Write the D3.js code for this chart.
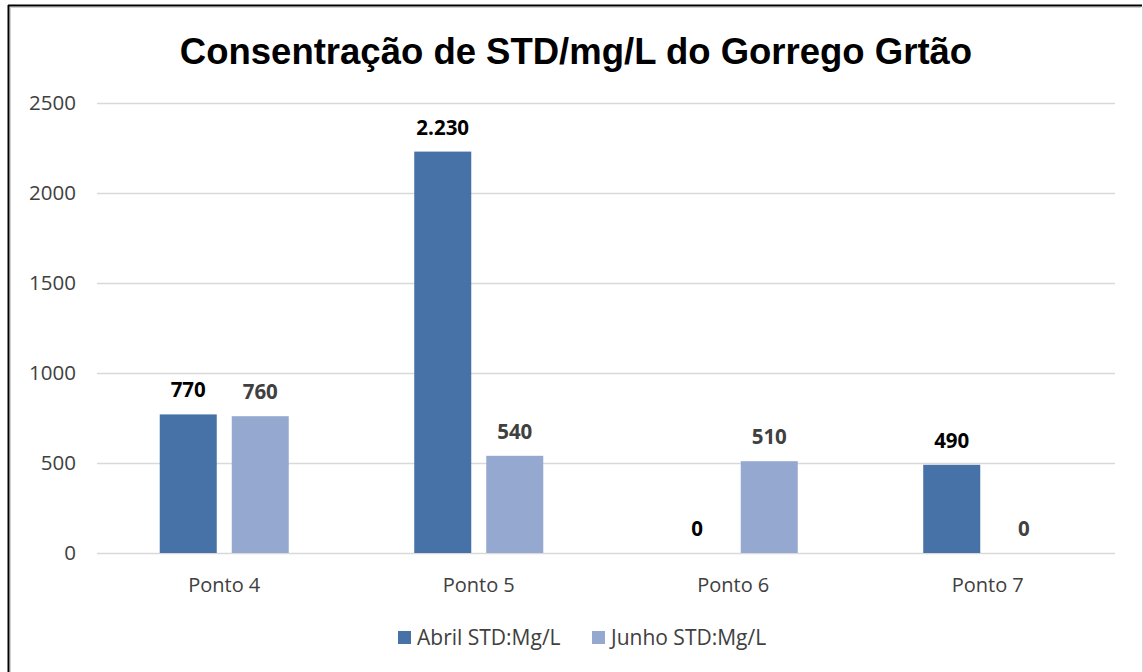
<!DOCTYPE html>
<html>
<head>
<meta charset="utf-8">
<script src="https://cdn.jsdelivr.net/npm/d3@7"></script>
<style>
  body { margin: 0; background: #fff; }
  svg { display: block; }
</style>
</head>
<body>
<svg width="1143" height="672"></svg>
<script>
// data
var categories = ["Ponto 4", "Ponto 5", "Ponto 6", "Ponto 7"];
var seriesNames = ["Abril STD:Mg/L", "Junho STD:Mg/L"];
var abril = [770, 2230, 0, 490];
var junho = [760, 540, 510, 0];
var yTicks = [0, 500, 1000, 1500, 2000, 2500];
var titleText = "Consentração de STD/mg/L do Gorrego Grtão";

var colors = ["#4672a7", "#95a9d0"],
    labelColors = ["#000000", "#404040"],
    plot = {left: 97, right: 1115, top: 103, bottom: 553},
    font = "'Open Sans', 'Noto Sans', sans-serif";

var svg = d3.select("svg");

// frame
svg.append("line").attr("x1", 8).attr("x2", 1142).attr("y1", 5.5).attr("y2", 5.5)
    .attr("stroke", "#000").attr("stroke-width", 2);
svg.append("line").attr("x1", 8.5).attr("x2", 8.5).attr("y1", 5).attr("y2", 672)
    .attr("stroke", "#000").attr("stroke-width", 2);
svg.append("line").attr("x1", 10).attr("x2", 1141).attr("y1", 7.5).attr("y2", 7.5)
    .attr("stroke", "#d0d0d0").attr("stroke-width", 1);
svg.append("line").attr("x1", 10.5).attr("x2", 10.5).attr("y1", 7).attr("y2", 672)
    .attr("stroke", "#d0d0d0").attr("stroke-width", 1);
svg.append("line").attr("x1", 1142.5).attr("x2", 1142.5).attr("y1", 6).attr("y2", 672)
    .attr("stroke", "#d9d9d9").attr("stroke-width", 1);

var yScale = d3.scaleLinear()
        .domain([0, 2500])
        .range([plot.bottom, plot.top]);

var x0 = d3.scaleBand()
        .domain(categories)
        .range([plot.left, plot.right])
        .paddingInner(0.493)
        .paddingOuter(0.2465);

var x1 = d3.scaleBand()
        .domain(seriesNames)
        .range([0, x0.bandwidth()])
        .paddingInner(0.2083);

// gridlines
var grid = svg.append("g")
        .attr("transform", "translate(" + plot.left + ",0)")
        .call(d3.axisLeft(yScale).tickValues(yTicks).tickSize(-(plot.right - plot.left)).tickFormat(""));
grid.select(".domain").remove();
grid.selectAll("line").attr("stroke", "#d9d9d9").attr("stroke-width", 1.6);

// y axis labels
var yAxis = svg.append("g")
        .attr("transform", "translate(" + plot.left + ",0)")
        .call(d3.axisLeft(yScale).tickValues(yTicks).tickSize(0).tickPadding(21).tickFormat(d3.format("d")));
yAxis.select(".domain").remove();
yAxis.selectAll("text")
        .attr("font-family", font)
        .attr("font-size", 20.5)
        .attr("fill", "#404040");

// x axis labels
var xAxis = svg.append("g")
        .attr("transform", "translate(0," + plot.bottom + ")")
        .call(d3.axisBottom(x0).tickSize(0));
xAxis.select(".domain").remove();
xAxis.selectAll("text")
        .attr("y", 0)
        .attr("dy", 39)
        .attr("font-family", font)
        .attr("font-size", 20)
        .attr("fill", "#404040");

var rows = categories.map(function (c, i) {
    return {cat: c, values: [abril[i], junho[i]]};
});

var fmt = d3.formatLocale({decimal: ",", thousands: ".", grouping: [3], currency: ["R$", ""]}).format(",d");

var groups = svg.append("g").selectAll("g")
        .data(rows).enter().append("g")
        .attr("transform", function (d) { return "translate(" + x0(d.cat) + ",0)"; });

groups.selectAll("rect")
        .data(function (d) {
            return d.values.map(function (v, j) { return {s: j, v: v}; });
        })
        .enter().append("rect")
        .attr("x", function (d) { return x1(seriesNames[d.s]); })
        .attr("width", x1.bandwidth())
        .attr("y", function (d) { return yScale(d.v); })
        .attr("height", function (d) { return yScale(0) - yScale(d.v); })
        .attr("fill", function (d) { return colors[d.s]; });

groups.selectAll("text")
        .data(function (d) {
            return d.values.map(function (v, j) { return {s: j, v: v}; });
        })
        .enter().append("text")
        .attr("x", function (d) { return x1(seriesNames[d.s]) + x1.bandwidth() / 2; })
        .attr("y", function (d) { return yScale(d.v) - 17; })
        .attr("text-anchor", "middle")
        .attr("font-family", font)
        .attr("font-size", 20.5)
        .attr("font-weight", "bold")
        .attr("fill", function (d) { return labelColors[d.s]; })
        .text(function (d) { return fmt(d.v); });

// title
svg.append("text")
        .attr("x", 576)
        .attr("y", 64)
        .attr("text-anchor", "middle")
        .attr("font-family", "'Liberation Sans', Arial, sans-serif")
        .attr("font-size", 36.5)
        .attr("font-weight", "bold")
        .attr("fill", "#000")
        .text(titleText);

// legend
var legendX = [398, 592];
var legend = svg.append("g").selectAll("g")
        .data(seriesNames).enter().append("g")
        .attr("transform", function (d, i) { return "translate(" + legendX[i] + ",631)"; });
legend.append("rect")
        .attr("width", 13).attr("height", 13)
        .attr("fill", function (d, i) { return colors[i]; });
legend.append("text")
        .attr("x", 19)
        .attr("y", 14)
        .attr("font-family", font)
        .attr("font-size", 21)
        .attr("fill", "#404040")
        .text(function (d) { return d; });
</script>
</body>
</html>
